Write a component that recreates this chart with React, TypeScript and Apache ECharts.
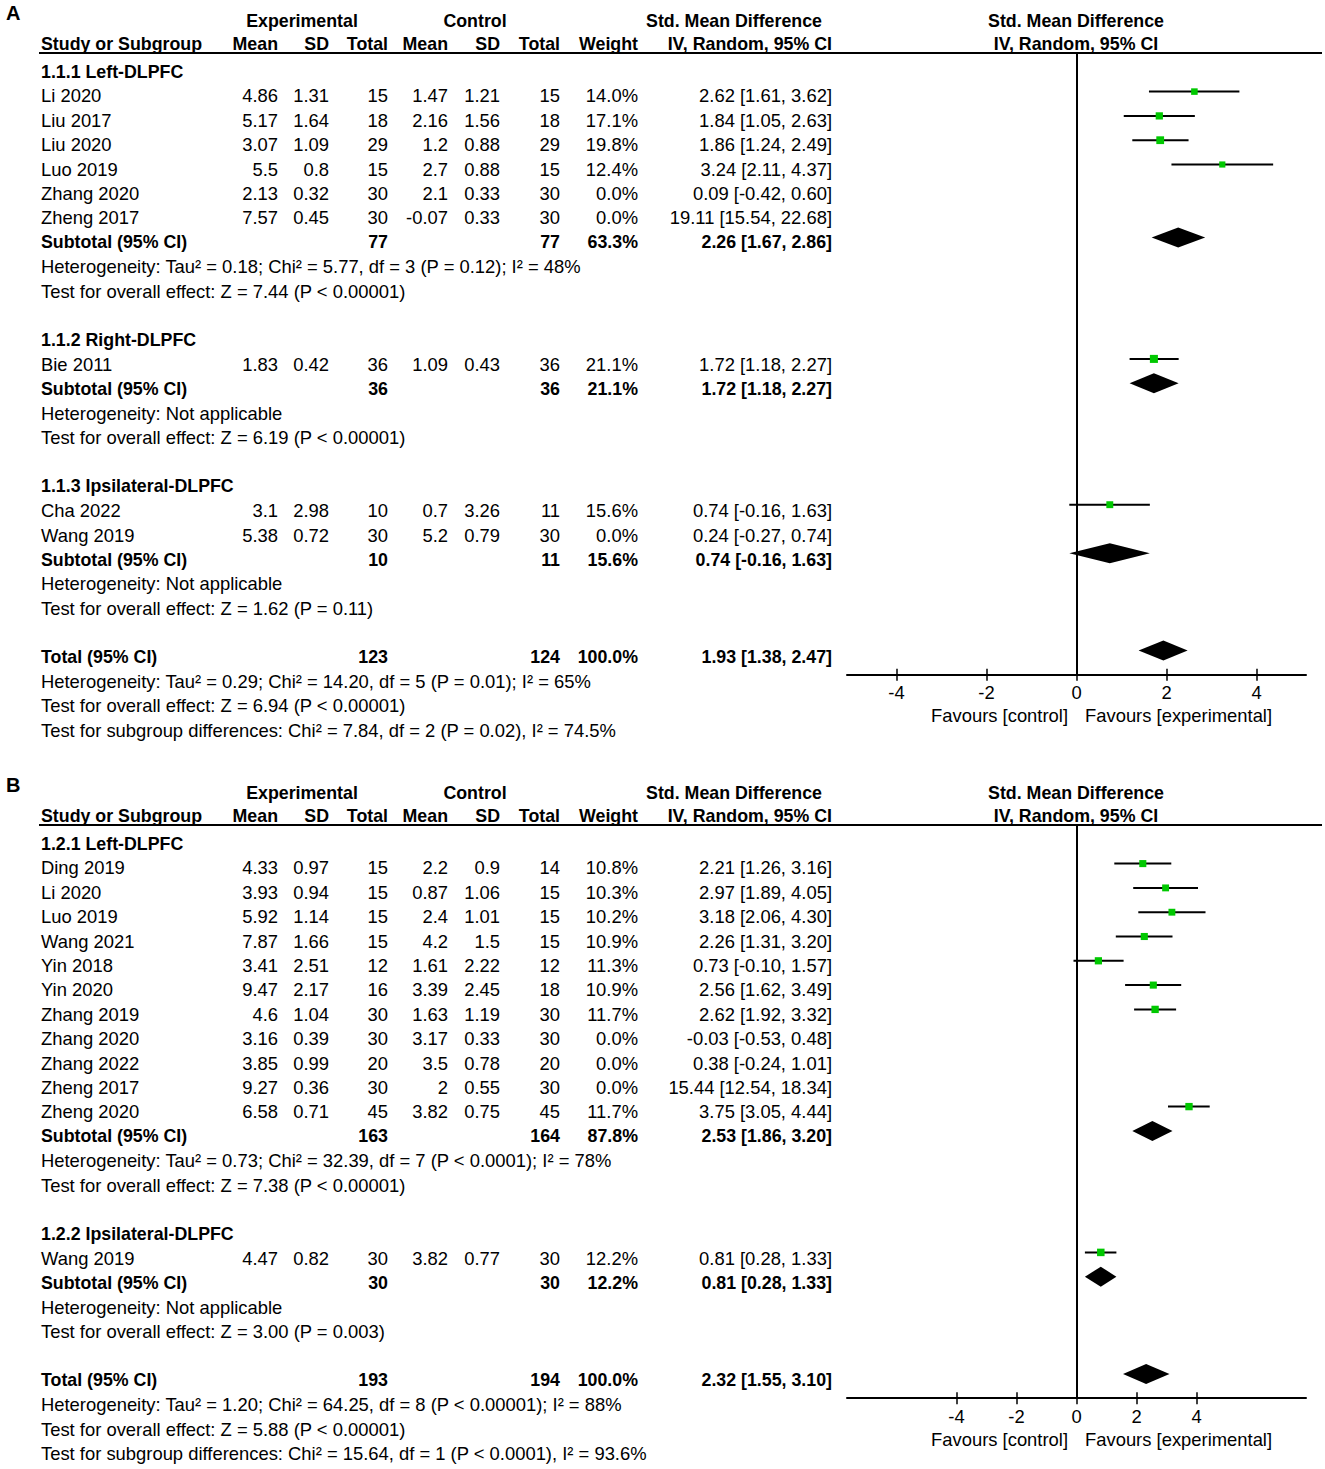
import React, { useEffect, useRef } from "react";
import * as echarts from "echarts";

const FONT = '"Liberation Sans", Arial, Helvetica, sans-serif';

// ---------------- Panel A data ----------------
const groupTitlesA = ["1.1.1 Left-DLPFC", "1.1.2 Right-DLPFC", "1.1.3 Ipsilateral-DLPFC"];
const studyGroupA = [0, 0, 0, 0, 0, 0, 1, 2, 2];
const studyNamesA = ["Li 2020", "Liu 2017", "Liu 2020", "Luo 2019", "Zhang 2020", "Zheng 2017", "Bie 2011", "Cha 2022", "Wang 2019"];
const expMeanA = [4.86, 5.17, 3.07, 5.5, 2.13, 7.57, 1.83, 3.1, 5.38];
const expSDA = [1.31, 1.64, 1.09, 0.8, 0.32, 0.45, 0.42, 2.98, 0.72];
const expTotalA = [15, 18, 29, 15, 30, 30, 36, 10, 30];
const ctrlMeanA = [1.47, 2.16, 1.2, 2.7, 2.1, -0.07, 1.09, 0.7, 5.2];
const ctrlSDA = [1.21, 1.56, 0.88, 0.88, 0.33, 0.33, 0.43, 3.26, 0.79];
const ctrlTotalA = [15, 18, 29, 15, 30, 30, 36, 11, 30];
const weightA = [14.0, 17.1, 19.8, 12.4, 0.0, 0.0, 21.1, 15.6, 0.0];
const smdA = [2.62, 1.84, 1.86, 3.24, 0.09, 19.11, 1.72, 0.74, 0.24];
const lowerA = [1.61, 1.05, 1.24, 2.11, -0.42, 15.54, 1.18, -0.16, -0.27];
const upperA = [3.62, 2.63, 2.49, 4.37, 0.6, 22.68, 2.27, 1.63, 0.74];
const subExpTotalA = [77, 36, 10];
const subCtrlTotalA = [77, 36, 11];
const subWeightA = [63.3, 21.1, 15.6];
const subSmdA = [2.26, 1.72, 0.74];
const subLowerA = [1.67, 1.18, -0.16];
const subUpperA = [2.86, 2.27, 1.63];
const subHetA = [
  "Heterogeneity: Tau\u00b2 = 0.18; Chi\u00b2 = 5.77, df = 3 (P = 0.12); I\u00b2 = 48%",
  "Heterogeneity: Not applicable",
  "Heterogeneity: Not applicable",
];
const subTestA = [
  "Test for overall effect: Z = 7.44 (P < 0.00001)",
  "Test for overall effect: Z = 6.19 (P < 0.00001)",
  "Test for overall effect: Z = 1.62 (P = 0.11)",
];
const totalCountsA = [123, 124];
const totalWeightA = 100.0;
const totalEffectA = [1.93, 1.38, 2.47];
const totalTextsA = [
  "Heterogeneity: Tau\u00b2 = 0.29; Chi\u00b2 = 14.20, df = 5 (P = 0.01); I\u00b2 = 65%",
  "Test for overall effect: Z = 6.94 (P < 0.00001)",
  "Test for subgroup differences: Chi\u00b2 = 7.84, df = 2 (P = 0.02), I\u00b2 = 74.5%",
];
const axisRangeA = [-5.1, 5.1];
const ticksA = [-4, -2, 0, 2, 4];

// ---------------- Panel B data ----------------
const groupTitlesB = ["1.2.1 Left-DLPFC", "1.2.2 Ipsilateral-DLPFC"];
const studyGroupB = [0, 0, 0, 0, 0, 0, 0, 0, 0, 0, 0, 1];
const studyNamesB = ["Ding 2019", "Li 2020", "Luo 2019", "Wang 2021", "Yin 2018", "Yin 2020", "Zhang 2019", "Zhang 2020", "Zhang 2022", "Zheng 2017", "Zheng 2020", "Wang 2019"];
const expMeanB = [4.33, 3.93, 5.92, 7.87, 3.41, 9.47, 4.6, 3.16, 3.85, 9.27, 6.58, 4.47];
const expSDB = [0.97, 0.94, 1.14, 1.66, 2.51, 2.17, 1.04, 0.39, 0.99, 0.36, 0.71, 0.82];
const expTotalB = [15, 15, 15, 15, 12, 16, 30, 30, 20, 30, 45, 30];
const ctrlMeanB = [2.2, 0.87, 2.4, 4.2, 1.61, 3.39, 1.63, 3.17, 3.5, 2, 3.82, 3.82];
const ctrlSDB = [0.9, 1.06, 1.01, 1.5, 2.22, 2.45, 1.19, 0.33, 0.78, 0.55, 0.75, 0.77];
const ctrlTotalB = [14, 15, 15, 15, 12, 18, 30, 30, 20, 30, 45, 30];
const weightB = [10.8, 10.3, 10.2, 10.9, 11.3, 10.9, 11.7, 0.0, 0.0, 0.0, 11.7, 12.2];
const smdB = [2.21, 2.97, 3.18, 2.26, 0.73, 2.56, 2.62, -0.03, 0.38, 15.44, 3.75, 0.81];
const lowerB = [1.26, 1.89, 2.06, 1.31, -0.1, 1.62, 1.92, -0.53, -0.24, 12.54, 3.05, 0.28];
const upperB = [3.16, 4.05, 4.3, 3.2, 1.57, 3.49, 3.32, 0.48, 1.01, 18.34, 4.44, 1.33];
const subExpTotalB = [163, 30];
const subCtrlTotalB = [164, 30];
const subWeightB = [87.8, 12.2];
const subSmdB = [2.53, 0.81];
const subLowerB = [1.86, 0.28];
const subUpperB = [3.2, 1.33];
const subHetB = [
  "Heterogeneity: Tau\u00b2 = 0.73; Chi\u00b2 = 32.39, df = 7 (P < 0.0001); I\u00b2 = 78%",
  "Heterogeneity: Not applicable",
];
const subTestB = [
  "Test for overall effect: Z = 7.38 (P < 0.00001)",
  "Test for overall effect: Z = 3.00 (P = 0.003)",
];
const totalCountsB = [193, 194];
const totalWeightB = 100.0;
const totalEffectB = [2.32, 1.55, 3.1];
const totalTextsB = [
  "Heterogeneity: Tau\u00b2 = 1.20; Chi\u00b2 = 64.25, df = 8 (P < 0.00001); I\u00b2 = 88%",
  "Test for overall effect: Z = 5.88 (P < 0.00001)",
  "Test for subgroup differences: Chi\u00b2 = 15.64, df = 1 (P < 0.0001), I\u00b2 = 93.6%",
];
const axisRangeB = [-7.65, 7.65];
const ticksB = [-4, -2, 0, 2, 4];

const panelLetters = ["A", "B"];

// ---------------- layout (style only) ----------------
const PANEL_OFFSET = [0, 772];
const SQUARE_K = [1.75, 2.15];
const COL = {
  name: 41,
  expMean: 278,
  expSD: 329,
  expTotal: 388,
  ctrlMean: 448,
  ctrlSD: 500,
  ctrlTotal: 560,
  weight: 638,
  ci: 832,
};
const TEXT_ROW0 = 71.5;
const TEXT_STEP = 24.4;
const MARK_ROW0 = 67.3;
const MARK_STEP = 24.3;
const HEADER_LINE = 53;
const GRID_LEFT = 847;
const GRID_WIDTH = 459;
const ZERO_X = 1076;
const FS = 18.4;
const FS_BOLD = 17.8;

const fmtCI = (e: number, l: number, h: number) => `${e.toFixed(2)} [${l.toFixed(2)}, ${h.toFixed(2)}]`;

function txt(x: number, y: number, text: string, align = "left", bold = false, size?: number) {
  const fs = size ?? (bold ? FS_BOLD : FS);
  return {
    type: "text",
    x,
    y,
    silent: true,
    style: {
      text,
      fill: "#000",
      fontSize: fs,
      fontFamily: FONT,
      fontWeight: bold ? "bold" : "normal",
      align,
      verticalAlign: "middle",
      textAlign: align,
      textVerticalAlign: "middle",
    },
  };
}

function buildPanel(p: any, idx: number) {
  const off = PANEL_OFFSET[idx];
  const g: any[] = [];
  const studies: number[][] = [];
  const diamonds: number[][] = [];
  const ty = (r: number) => off + TEXT_ROW0 + TEXT_STEP * r;

  g.push(txt(6, off + 13, p.letter, "left", true, 20));
  // header row 1
  g.push(txt(302, off + 21, "Experimental", "center", true));
  g.push(txt(475, off + 21, "Control", "center", true));
  g.push(txt(734, off + 21, "Std. Mean Difference", "center", true));
  g.push(txt(ZERO_X, off + 21, "Std. Mean Difference", "center", true));
  // header row 2
  const h2 = off + 44;
  g.push(txt(COL.name, h2, "Study or Subgroup", "left", true));
  g.push(txt(COL.expMean, h2, "Mean", "right", true));
  g.push(txt(COL.expSD, h2, "SD", "right", true));
  g.push(txt(COL.expTotal, h2, "Total", "right", true));
  g.push(txt(COL.ctrlMean, h2, "Mean", "right", true));
  g.push(txt(COL.ctrlSD, h2, "SD", "right", true));
  g.push(txt(COL.ctrlTotal, h2, "Total", "right", true));
  g.push(txt(COL.weight, h2, "Weight", "right", true));
  g.push(txt(COL.ci, h2, "IV, Random, 95% CI", "right", true));
  g.push(txt(ZERO_X, h2, "IV, Random, 95% CI", "center", true));
  g.push({
    type: "line",
    silent: true,
    shape: { x1: 39, y1: off + HEADER_LINE, x2: 1322, y2: off + HEADER_LINE },
    style: { stroke: "#000", lineWidth: 2 },
  });

  let r = 0;
  p.groupTitles.forEach((title: string, gi: number) => {
    g.push(txt(COL.name, ty(r), title, "left", true));
    r++;
    p.studyGroup.forEach((sg: number, i: number) => {
      if (sg !== gi) return;
      const y = ty(r);
      g.push(txt(COL.name, y, p.names[i]));
      g.push(txt(COL.expMean, y, String(p.expMean[i]), "right"));
      g.push(txt(COL.expSD, y, String(p.expSD[i]), "right"));
      g.push(txt(COL.expTotal, y, String(p.expTotal[i]), "right"));
      g.push(txt(COL.ctrlMean, y, String(p.ctrlMean[i]), "right"));
      g.push(txt(COL.ctrlSD, y, String(p.ctrlSD[i]), "right"));
      g.push(txt(COL.ctrlTotal, y, String(p.ctrlTotal[i]), "right"));
      g.push(txt(COL.weight, y, p.weight[i].toFixed(1) + "%", "right"));
      g.push(txt(COL.ci, y, fmtCI(p.smd[i], p.lower[i], p.upper[i]), "right"));
      if (p.weight[i] > 0) studies.push([p.smd[i], p.lower[i], p.upper[i], r, p.weight[i]]);
      r++;
    });
    const y = ty(r);
    g.push(txt(COL.name, y, "Subtotal (95% CI)", "left", true));
    g.push(txt(COL.expTotal, y, String(p.subExpTotal[gi]), "right", true));
    g.push(txt(COL.ctrlTotal, y, String(p.subCtrlTotal[gi]), "right", true));
    g.push(txt(COL.weight, y, p.subWeight[gi].toFixed(1) + "%", "right", true));
    g.push(txt(COL.ci, y, fmtCI(p.subSmd[gi], p.subLower[gi], p.subUpper[gi]), "right", true));
    diamonds.push([p.subSmd[gi], p.subLower[gi], p.subUpper[gi], r]);
    r++;
    g.push(txt(COL.name, ty(r), p.subHet[gi]));
    r++;
    g.push(txt(COL.name, ty(r), p.subTest[gi]));
    r++;
    r++; // blank
  });
  const yT = ty(r);
  g.push(txt(COL.name, yT, "Total (95% CI)", "left", true));
  g.push(txt(COL.expTotal, yT, String(p.totalCounts[0]), "right", true));
  g.push(txt(COL.ctrlTotal, yT, String(p.totalCounts[1]), "right", true));
  g.push(txt(COL.weight, yT, p.totalWeight.toFixed(1) + "%", "right", true));
  g.push(txt(COL.ci, yT, fmtCI(p.totalEffect[0], p.totalEffect[1], p.totalEffect[2]), "right", true));
  diamonds.push([p.totalEffect[0], p.totalEffect[1], p.totalEffect[2], r]);
  const totalRow = r;
  r++;
  p.totalTexts.forEach((t: string) => {
    g.push(txt(COL.name, ty(r), t));
    r++;
  });

  const axisRow = totalRow + 1;
  const gridTop = off + HEADER_LINE + 1;
  const axisY = off + MARK_ROW0 + MARK_STEP * axisRow;
  const yMin = (gridTop - off - MARK_ROW0) / MARK_STEP;
  g.push(txt(1068, axisY + 41, "Favours [control]", "right"));
  g.push(txt(1085, axisY + 41, "Favours [experimental]", "left"));

  return { g, studies, diamonds, gridTop, axisY, yMin, yMax: axisRow };
}

const panelsData = [
  {
    letter: panelLetters[0], groupTitles: groupTitlesA, studyGroup: studyGroupA, names: studyNamesA,
    expMean: expMeanA, expSD: expSDA, expTotal: expTotalA, ctrlMean: ctrlMeanA, ctrlSD: ctrlSDA, ctrlTotal: ctrlTotalA,
    weight: weightA, smd: smdA, lower: lowerA, upper: upperA,
    subExpTotal: subExpTotalA, subCtrlTotal: subCtrlTotalA, subWeight: subWeightA, subSmd: subSmdA, subLower: subLowerA, subUpper: subUpperA,
    subHet: subHetA, subTest: subTestA, totalCounts: totalCountsA, totalWeight: totalWeightA, totalEffect: totalEffectA, totalTexts: totalTextsA,
    range: axisRangeA, ticks: ticksA,
  },
  {
    letter: panelLetters[1], groupTitles: groupTitlesB, studyGroup: studyGroupB, names: studyNamesB,
    expMean: expMeanB, expSD: expSDB, expTotal: expTotalB, ctrlMean: ctrlMeanB, ctrlSD: ctrlSDB, ctrlTotal: ctrlTotalB,
    weight: weightB, smd: smdB, lower: lowerB, upper: upperB,
    subExpTotal: subExpTotalB, subCtrlTotal: subCtrlTotalB, subWeight: subWeightB, subSmd: subSmdB, subLower: subLowerB, subUpper: subUpperB,
    subHet: subHetB, subTest: subTestB, totalCounts: totalCountsB, totalWeight: totalWeightB, totalEffect: totalEffectB, totalTexts: totalTextsB,
    range: axisRangeB, ticks: ticksB,
  },
];

function buildOption() {
  const graphics: any[] = [];
  const grids: any[] = [];
  const xAxes: any[] = [];
  const yAxes: any[] = [];
  const series: any[] = [];

  panelsData.forEach((p, idx) => {
    const b = buildPanel(p, idx);
    graphics.push(...b.g);
    grids.push({
      left: GRID_LEFT,
      top: b.gridTop,
      width: GRID_WIDTH,
      height: b.axisY - b.gridTop,
      containLabel: false,
      outerBoundsMode: "none",
    });
    xAxes.push({
      type: "value",
      gridIndex: idx,
      position: "bottom",
      min: p.range[0],
      max: p.range[1],
      splitLine: { show: false },
      axisLine: { show: true, onZero: false, lineStyle: { color: "#000", width: 2 } },
      axisTick: { show: true, inside: false, length: 6, customValues: p.ticks, lineStyle: { color: "#000", width: 1.5 } },
      axisLabel: {
        show: true,
        customValues: p.ticks,
        margin: 9,
        color: "#000",
        fontSize: FS,
        fontFamily: FONT,
      },
    });
    xAxes.push({
      type: "value",
      gridIndex: idx,
      position: "bottom",
      min: p.range[0],
      max: p.range[1],
      splitLine: { show: false },
      axisLine: { show: false, onZero: false },
      axisTick: { show: true, inside: true, length: 6, customValues: p.ticks, lineStyle: { color: "#000", width: 1.5 } },
      axisLabel: { show: false },
    });
    yAxes.push({
      type: "value",
      gridIndex: idx,
      inverse: true,
      min: b.yMin,
      max: b.yMax,
      splitLine: { show: false },
      axisTick: { show: false },
      axisLabel: { show: false },
      axisLine: { show: true, onZero: true, onZeroAxisIndex: idx * 2, lineStyle: { color: "#000", width: 2 } },
    });
    const k = SQUARE_K[idx];
    series.push({
      type: "custom",
      xAxisIndex: idx * 2,
      yAxisIndex: idx,
      encode: { x: [0, 1, 2], y: 3 },
      data: b.studies,
      clip: false,
      renderItem: (_params: any, api: any) => {
        const e = api.value(0);
        const lo = api.value(1);
        const hi = api.value(2);
        const row = api.value(3);
        const w = api.value(4);
        const pl = api.coord([lo, row]);
        const ph = api.coord([hi, row]);
        const pe = api.coord([e, row]);
        const s = k * Math.sqrt(w);
        return {
          type: "group",
          children: [
            { type: "line", shape: { x1: pl[0], y1: pl[1], x2: ph[0], y2: ph[1] }, style: { stroke: "#000", lineWidth: 2 } },
            { type: "rect", shape: { x: pe[0] - s / 2, y: pe[1] - s / 2, width: s, height: s }, style: { fill: "#00c800" } },
          ],
        };
      },
    });
    series.push({
      type: "custom",
      xAxisIndex: idx * 2,
      yAxisIndex: idx,
      encode: { x: [0, 1, 2], y: 3 },
      data: b.diamonds,
      clip: false,
      renderItem: (_params: any, api: any) => {
        const e = api.value(0);
        const lo = api.value(1);
        const hi = api.value(2);
        const row = api.value(3);
        const pl = api.coord([lo, row]);
        const ph = api.coord([hi, row]);
        const pe = api.coord([e, row]);
        const hh = 10;
        return {
          type: "polygon",
          shape: { points: [[pl[0], pl[1]], [pe[0], pe[1] - hh], [ph[0], ph[1]], [pe[0], pe[1] + hh]] },
          style: { fill: "#000" },
        };
      },
    });
  });

  return {
    animation: false,
    backgroundColor: "#fff",
    grid: grids,
    xAxis: xAxes,
    yAxis: yAxes,
    series,
    graphic: { elements: graphics },
  };
}

export default function App() {
  const ref = useRef<HTMLDivElement>(null);
  useEffect(() => {
    if (!ref.current) return;
    const chart = echarts.init(ref.current, undefined, { renderer: "svg" });
    chart.setOption(buildOption() as any);
    return () => chart.dispose();
  }, []);
  return (
    <div
      ref={ref}
      style={{ position: "absolute", left: 0, top: 0, width: 1325, height: 1469, background: "#fff" }}
    />
  );
}
